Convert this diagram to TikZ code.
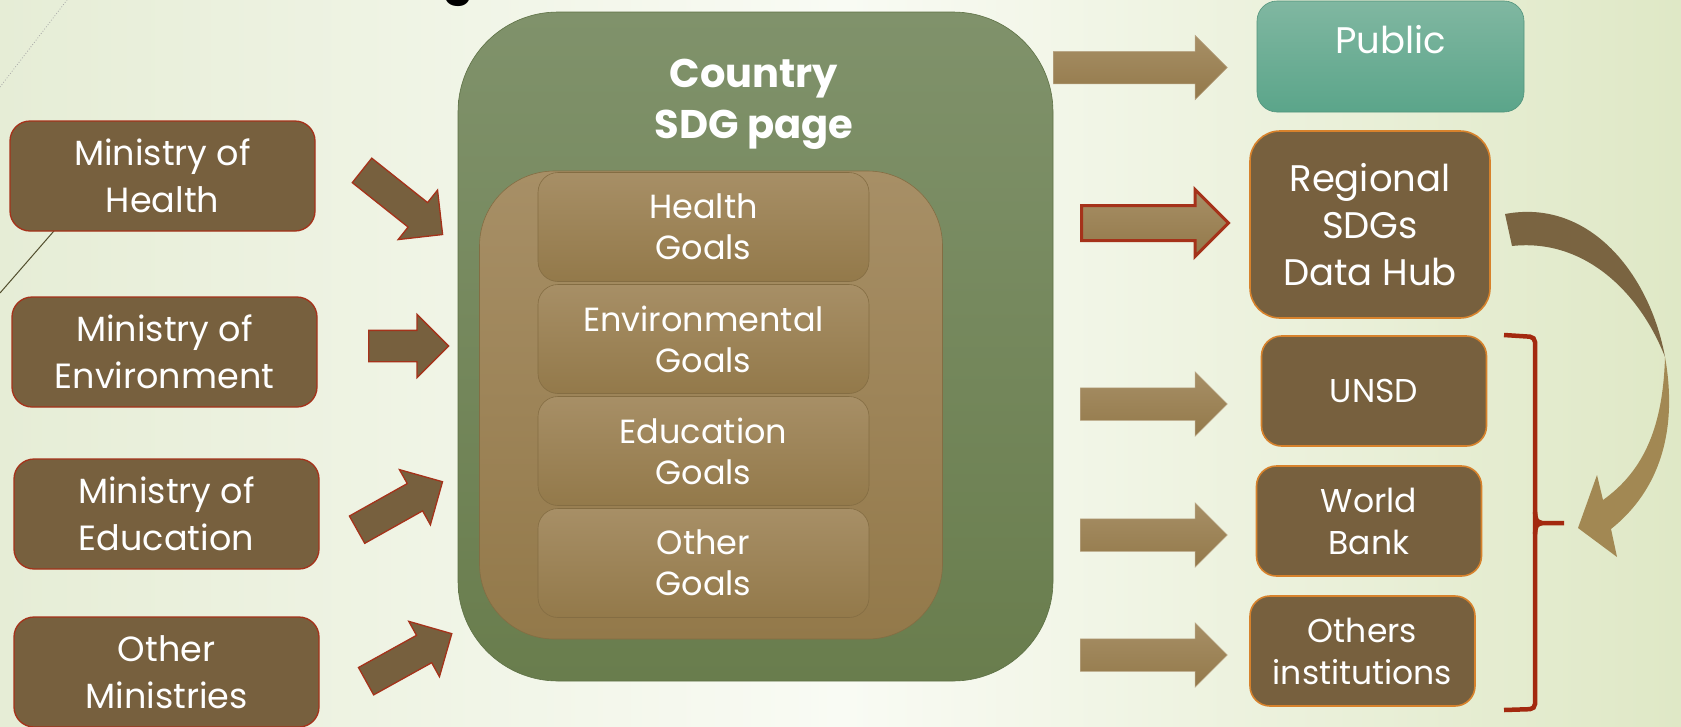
\documentclass[tikz,border=0pt]{standalone}
\usepackage{fontspec}
\setmainfont{Poppins}
\usetikzlibrary{shapes.arrows}

\definecolor{minbrown}{HTML}{77603E}
\definecolor{brdred}{HTML}{A5321A}
\definecolor{hubedge}{HTML}{D7822C}
\definecolor{tanlight}{HTML}{A78F66}
\definecolor{tandark}{HTML}{93794A}
\definecolor{sdgtop}{HTML}{80926B}
\definecolor{sdgbot}{HTML}{697D4D}
\definecolor{pubtop}{HTML}{80B7A1}
\definecolor{pubbot}{HTML}{5BA58A}
\definecolor{bracered}{HTML}{A3290F}
\definecolor{curvedark}{HTML}{7A6441}
\definecolor{curvelight}{HTML}{A28853}
\definecolor{bgleft}{HTML}{E6EDD6}
\definecolor{bgright}{HTML}{DFE8C6}
\definecolor{bgmid}{HTML}{F9FBF4}

\tikzset{
  minbox/.style={draw=brdred, line width=1.3pt, fill=minbrown, rounded corners=20pt,
    minimum width=305pt, minimum height=110pt, text=white, align=center,
    font=\fontsize{35}{47}\selectfont},
  goalbox/.style={draw=tandark!90!black, line width=0.6pt, top color=tanlight, bottom color=tandark,
    rounded corners=20pt, minimum width=331pt, minimum height=109pt, text=white, align=center,
    font=\fontsize{33.5}{41}\selectfont},
  outbox/.style={draw=hubedge, line width=1.6pt, fill=minbrown, rounded corners=20pt,
    minimum width=225pt, minimum height=110pt, text=white, align=center,
    font=\fontsize{33}{42}\selectfont},
  inarrow/.style={single arrow, draw=brdred, line width=1.3pt, fill=minbrown,
    single arrow head extend=16pt, single arrow tip angle=90, inner xsep=0pt, inner ysep=15pt,
    anchor=tail},
  outarrow/.style={single arrow, draw=tanlight!80!white, line width=0.5pt, top color=tanlight,
    bottom color=tandark, single arrow head extend=16pt, single arrow tip angle=90,
    inner xsep=0pt, inner ysep=16pt, minimum height=147pt, anchor=tail},
}

\begin{document}
\begin{tikzpicture}[x=1pt, y=-1pt]
\useasboundingbox (0,0) rectangle (1681,726);
\shade[left color=bgleft, right color=bgright, middle color=bgmid] (0,0) rectangle (1681,726);
\draw[gray!70, dotted, line width=0.8pt] (0,87) -- (67,0);
\draw[black!55!olive, line width=1pt] (0,293) -- (60,224);
\node[anchor=base, font=\fontsize{44}{44}\selectfont\bfseries] (ttl) at (458,-6) {g};

% country page
\node[draw=sdgbot!90!black, line width=0.6pt, top color=sdgtop, bottom color=sdgbot,
  rounded corners=100pt, minimum width=595pt, minimum height=669pt] (sdg) at (755.5,346.5) {};
\node[text=white, align=center, font=\fontsize{40}{51}\selectfont\bfseries] (sdgttl) at (754,104) {Country\\SDG page};
\node[draw=tandark!90!black, line width=0.6pt, top color=tanlight, bottom color=tandark,
  rounded corners=75pt, minimum width=463pt, minimum height=468pt] (goals) at (711,405) {};
\node[goalbox] (ghealth) at (703.5,227) {Health\\Goals};
\node[goalbox] (genv) at (703.5,339) {Environmental\\Goals};
\node[goalbox] (gedu) at (703.5,451) {Education\\Goals};
\node[goalbox] (goth) at (703.5,563) {Other\\Goals};

% ministries
\node[minbox] (mhealth) at (162.5,176) {Ministry of\\Health};
\node[minbox] (menv) at (164.5,352) {Ministry of\\Environment};
\node[minbox] (medu) at (166.5,514) {Ministry of\\Education};
\node[minbox] (moth) at (166.5,672) {Other\\Ministries};
\node[inarrow, minimum height=103pt, rotate=-38.5] (ahealth) at (361.5,170) {};
\node[inarrow, minimum height=80pt] (aenv) at (368,346) {};
\node[inarrow, minimum height=98pt, rotate=29.3] (aedu) at (356.5,530) {};
\node[inarrow, minimum height=98pt, rotate=29] (aoth) at (365.5,681.5) {};

% receivers
\node[draw=pubbot!90!black, line width=0.6pt, top color=pubtop, bottom color=pubbot,
  rounded corners=20pt, minimum width=267pt, minimum height=111pt] (public) at (1390.5,56.5) {};
\node[text=white, font=\fontsize{37}{44}\selectfont] (publictxt) at (1390.5,40) {Public};
\node[outbox, rounded corners=30pt, minimum width=240pt, minimum height=187pt,
  font=\fontsize{37}{47}\selectfont] (hub) at (1370,224.5) {Regional\\SDGs\\Data Hub};
\node[outbox] (unsd) at (1374,391) {UNSD};
\node[outbox] (wb) at (1369,521) {World\\Bank};
\node[outbox] (othinst) at (1362.5,651) {Others\\institutions};
\node[outarrow, minimum height=174pt] (apub) at (1053,67.5) {};
\node[outarrow, draw=brdred, line width=3pt] (ahub) at (1080,223) {};
\node[outarrow] (aunsd) at (1080,404) {};
\node[outarrow] (awb) at (1080,535) {};
\node[outarrow] (aoi) at (1080,655) {};

% brace and curved arrow
\draw[bracered, line width=4.5pt, rounded corners=5pt] (1504,335) -- (1535,337) -- (1535,709) -- (1504,710);
\draw[bracered, line width=4.5pt] (1535,512) .. controls (1536,521) .. (1542,523) -- (1564,523);
\draw[bracered, line width=4.5pt] (1535,534) .. controls (1536,525) .. (1542,523);
\fill[curvedark] (1505,214) .. controls (1590,198) and (1650,275) .. (1665,357)
  .. controls (1640,293) and (1585,238) .. (1512,246) -- cycle;
\fill[curvelight] (1665,357) .. controls (1678,430) and (1660,490) .. (1611,529) -- (1617,557)
  -- (1578,528) -- (1597,475) -- (1603,500) .. controls (1645,470) and (1663,425) .. (1665,357) -- cycle;
\end{tikzpicture}
\end{document}
